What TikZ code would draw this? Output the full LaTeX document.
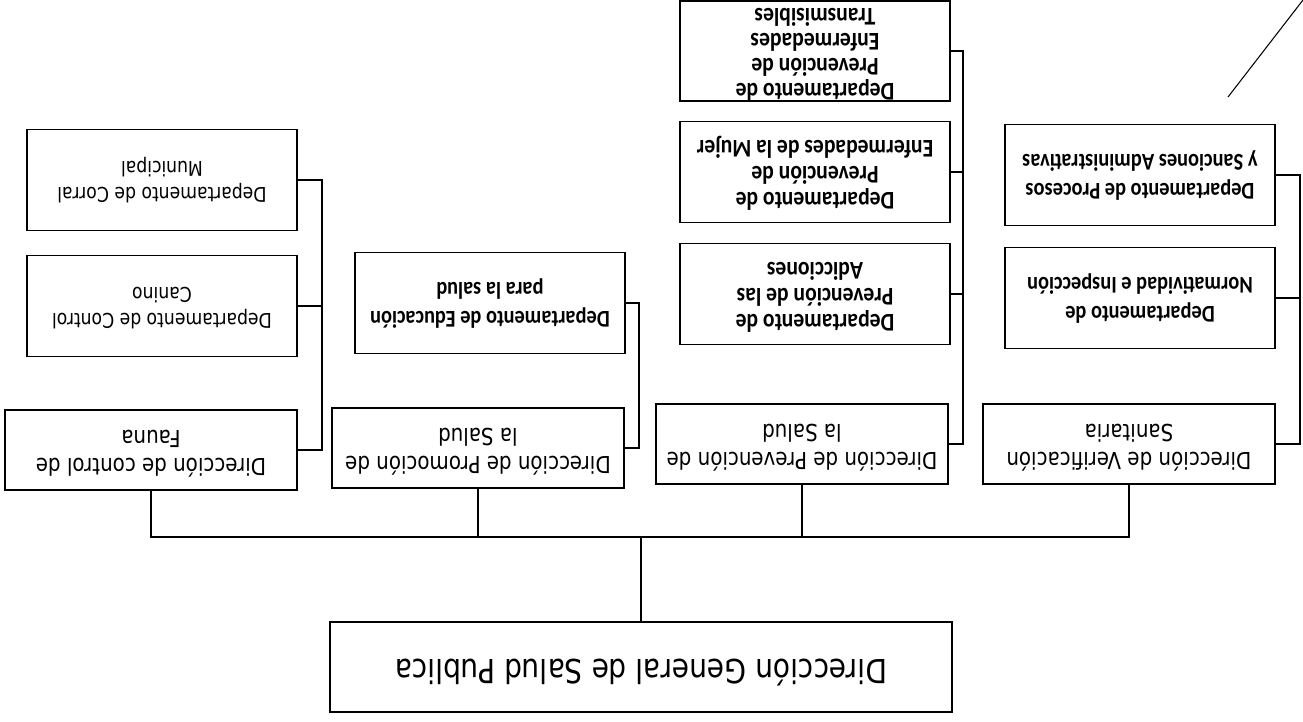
\documentclass[tikz,border=0pt]{standalone}
\usepackage{fontspec}
\setmainfont{DejaVu Sans}
\newfontfamily\calib{Carlito}
\usepackage{graphicx}
\usetikzlibrary{positioning}

% text of the scanned sheet stands upside down
\newcommand{\flip}[1]{\rotatebox{180}{\scalebox{1}[1.18]{\begin{tabular}{@{}c@{}}#1\end{tabular}}}}

\begin{document}
\begin{tikzpicture}[x=0.02cm, y=-0.02cm, line width=1pt]
    \tikzset{
      rootbox/.style={draw, minimum width=12.44cm, minimum height=1.8cm, inner sep=0pt, font=\fontsize{16}{19}\selectfont},
      dirbox/.style={draw, minimum width=5.84cm, minimum height=1.6cm, inner sep=0pt, font=\fontsize{11.3}{13.5}\selectfont},
      depbox/.style={draw, minimum width=5.4cm, minimum height=2.02cm, inner sep=0pt, font=\calib\bfseries\fontsize{11.6}{14}\selectfont},
      prevbox/.style={depbox, font=\calib\bfseries\fontsize{12.3}{12.5}\selectfont},
      depsans/.style={depbox, font=\fontsize{9.8}{12.5}\selectfont},
    }
    \useasboundingbox (0,0) rectangle (1303,721);

    \node [rootbox] (root) at (641,667) {\flip{Dirección General de Salud Publica}};

    % direcciones
    \node [dirbox] (fauna) at (151,450) {\flip{Dirección de control de\\Fauna}};
    \node [dirbox] (promo) at (478,448) {\flip{Dirección de Promoción de\\la Salud}};
    \node [dirbox] (preve) at (802,444) {\flip{Dirección de Prevención de\\la Salud}};
    \node [dirbox] (verif) at (1129,444) {\flip{Dirección de Verificación\\Sanitaria}};

    % departamentos
    \node [depsans] (canino) at (162,306) {\flip{Departamento de Control\\Canino}};
    \node [depsans] (corral) at (162,180) {\flip{Departamento de Corral\\Municipal}};
    \node [depbox] (educa) at (490,303) {\flip{Departamento de Educación\\para la salud}};
    \node [prevbox] (adicc) at (815,294) {\flip{Departamento de\\Prevención de las\\Adicciones}};
    \node [prevbox] (mujer) at (815,172) {\flip{Departamento de\\Prevención de\\Enfermedades de la Mujer}};
    \node [prevbox, minimum height=1.88cm, font=\calib\bfseries\fontsize{12.3}{11.6}\selectfont] (trans) at (815,51) {\flip{Departamento de\\Prevención de\\Enfermedades\\Transmisibles}};
    \node [depbox] (norma) at (1140,298) {\flip{Departamento de\\Normatividad e Inspección}};
    \node [depbox] (proce) at (1140,175) {\flip{Departamento de Procesos\\y Sanciones Administrativas}};

    \coordinate (bus) at (0,537);
    \coordinate (brkA) at (322,0);
    \coordinate (brkB) at (639,0);
    \coordinate (brkC) at (963,0);
    \coordinate (brkD) at (1300,0);

    % main bus
    \draw (root.north) -- (root.north |- bus);
    \draw (fauna.south) -- (fauna.south |- bus) -- (verif.south |- bus) -- (verif.south);
    \draw (promo.south) -- (promo.south |- bus);
    \draw (preve.south) -- (preve.south |- bus);

    % side brackets
    \draw (fauna.east) -- (fauna.east -| brkA) -- (corral.east -| brkA) -- (corral.east);
    \draw (canino.east) -- (canino.east -| brkA);
    \draw (promo.east) -- (promo.east -| brkB) -- (educa.east -| brkB) -- (educa.east);
    \draw (preve.east) -- (preve.east -| brkC) -- (trans.east -| brkC) -- (trans.east);
    \draw (adicc.east) -- (adicc.east -| brkC);
    \draw (mujer.east) -- (mujer.east -| brkC);
    \draw (verif.east) -- (verif.east -| brkD) -- (proce.east -| brkD) -- (proce.east);
    \draw (norma.east) -- (norma.east -| brkD);

    % stray pen stroke on the sheet
    \draw [line width=0.6pt] (1228,97) -- (1303,0);

  \end{tikzpicture}
\end{document}
